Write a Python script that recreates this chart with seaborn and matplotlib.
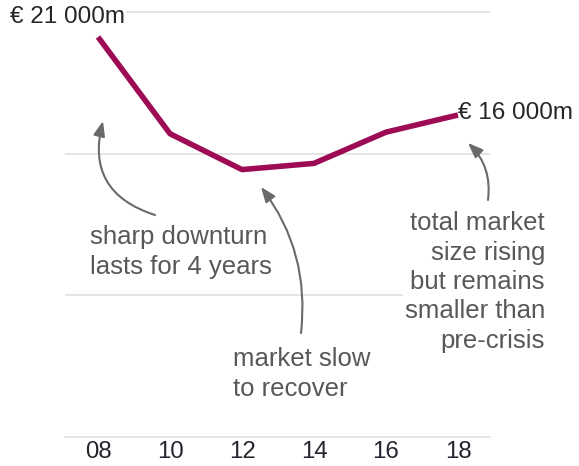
import matplotlib
matplotlib.use("Agg")
import matplotlib.pyplot as plt
import seaborn as sns
import pandas as pd

# ---- data ----
years = [2008, 2010, 2012, 2014, 2016, 2018]
market_size = [21000, 14800, 12500, 12900, 14900, 16000]   # EUR m
tick_labels = ["08", "10", "12", "14", "16", "18"]
start_label = "€ 21 000m"
end_label = "€ 16 000m"
note_left = "sharp downturn\nlasts for 4 years"
note_mid = "market slow\nto recover"
note_right = "total market\nsize rising\nbut remains\nsmaller than\npre-crisis"

df = pd.DataFrame({"year": years, "size": market_size})

sns.set_theme(style="white")
plt.rcParams["font.family"] = ["Liberation Sans", "DejaVu Sans"]

W, H = 579, 466
fig = plt.figure(figsize=(W / 100, H / 100), dpi=100)
fig.patch.set_facecolor("white")
ax = fig.add_axes([65 / W, (H - 437) / H, (490 - 65) / W, 437 / H])
ax.set_facecolor("none")

LINE_COL = "#9e0b55"
GRID_COL = "#e0e0e0"
TEXT_COL = "#585858"

sns.lineplot(data=df, x="year", y="size", color=LINE_COL, lw=4.0, ax=ax,
             solid_joinstyle="round", solid_capstyle="butt", clip_on=False, zorder=3)

ax.set_xlim(2007.083, 2018.889)
ax.set_ylim(-4640, 23372)

# gridlines
ax.set_yticks([4460, 13500, 22600])
ax.set_yticklabels([])
ax.grid(axis="y", color=GRID_COL, lw=1.2)
ax.grid(axis="x", visible=False)
ax.tick_params(axis="y", length=0)

ax.set_xticks(years)
ax.set_xticklabels(tick_labels, fontsize=17.3, color="#24242e")
ax.tick_params(axis="x", length=0, pad=3)
ax.set_xlabel("")
ax.set_ylabel("")
for s in ["top", "left", "right"]:
    ax.spines[s].set_visible(False)
ax.spines["bottom"].set_color(GRID_COL)
ax.spines["bottom"].set_linewidth(1.2)

# end labels
fig.text(10 / W, 1 - 17 / H, start_label, ha="left", va="center", fontsize=17.5,
         color="#262626", bbox=dict(facecolor="white", edgecolor="none", pad=1), zorder=5)
fig.text(458 / W, 1 - 113 / H, end_label, ha="left", va="center", fontsize=17.5,
         color="#262626")

# annotations
LS = 1.28
fig.text(90 / W, 1 - 252 / H, note_left, ha="left", va="center", fontsize=18.5,
         color=TEXT_COL, linespacing=LS)
fig.text(233 / W, 1 - 374 / H, note_mid, ha="left", va="center", fontsize=18.5,
         color=TEXT_COL, linespacing=LS)
fig.text(545 / W, 1 - 282 / H, note_right, ha="right", va="center", fontsize=18.5,
         color=TEXT_COL, linespacing=LS, multialignment="right",
         bbox=dict(facecolor="white", edgecolor="none", pad=1), zorder=5)

arrow_kw = dict(arrowstyle="-|>,head_length=0.9,head_width=0.35", color="#6a6a6a",
                lw=1.5, shrinkA=0, shrinkB=0, mutation_scale=10)

def arrow(tail, head, rad):
    fig.add_artist(matplotlib.patches.FancyArrowPatch(
        (tail[0], H - tail[1]), (head[0], H - head[1]),
        transform=None, connectionstyle=f"arc3,rad={rad}", **arrow_kw))

arrow((155, 215), (103, 121), -0.47)
arrow((301, 333), (261, 187), 0.2)
arrow((488, 200), (468, 143), 0.25)

fig.savefig("out.png", dpi=100, facecolor="white")
